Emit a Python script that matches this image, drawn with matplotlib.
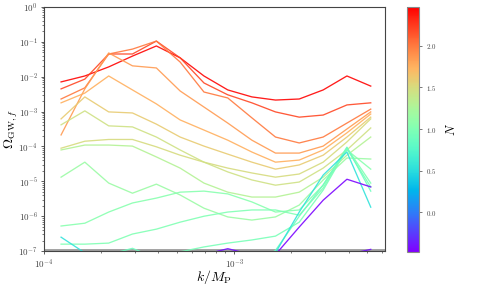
import numpy as np
import matplotlib
matplotlib.use('Agg')
import matplotlib.pyplot as plt

plt.rcParams['mathtext.fontset'] = 'cm'
plt.rcParams['font.family'] = 'serif'
plt.rcParams['font.serif'] = ['cmr10', 'DejaVu Serif']
plt.rcParams['axes.formatter.use_mathtext'] = True

# wavenumbers k/M_P
k = [1.23e-4, 1.64e-4, 2.19e-4, 2.92e-4, 3.90e-4, 5.20e-4, 6.94e-4,
     9.26e-4, 1.24e-3, 1.65e-3, 2.20e-3, 2.94e-3, 3.92e-3, 5.23e-3]

# colour parameter N of each curve
N = [2.45, 2.2, 2.0, 1.85, 1.75, 1.6, 1.5, 1.45, 1.3, 1.15, 1.05, 1.0, 0.95,
     0.9, 0.55, -0.42, -0.45]

# log10(Omega_GW,f) of each curve, same order as N
logOmega = [
    [-2.15, -1.98, -1.72, -1.41, -1.12, -1.46, -1.98, -2.38, -2.58, -2.67, -2.64, -2.38, -1.98, -2.27],
    [-2.35, -2.07, -1.35, -1.35, -0.98, -1.46, -2.18, -2.52, -2.75, -3.01, -3.16, -3.10, -2.81, -2.75],
    [-2.64, -2.32, -1.35, -1.21, -0.98, -1.58, -2.44, -2.61, -3.18, -3.73, -3.90, -3.73, -3.33, -2.93],
    [-3.67, -2.35, -1.32, -1.69, -1.75, -2.41, -2.87, -3.33, -3.82, -4.19, -4.19, -3.99, -3.50, -3.01],
    [-2.75, -2.47, -1.98, -2.38, -2.78, -3.24, -3.53, -3.82, -4.16, -4.45, -4.39, -4.10, -3.61, -3.07],
    [-3.21, -2.58, -3.01, -3.04, -3.36, -3.73, -3.99, -4.22, -4.45, -4.65, -4.53, -4.25, -3.73, -3.16],
    [-4.05, -3.85, -3.80, -3.80, -4.01, -4.25, -4.45, -4.62, -4.76, -4.88, -4.79, -4.45, -3.87, -3.21],
    [-3.38, -2.98, -3.41, -3.44, -3.73, -4.10, -4.45, -4.73, -4.96, -5.11, -5.02, -4.62, -4.10, -3.47],
    [-4.10, -3.96, -3.96, -3.99, -4.30, -4.62, -5.05, -5.31, -5.45, -5.45, -5.31, -4.88, -4.25, -3.73],
    [-4.88, -4.45, -5.05, -5.34, -5.08, -5.39, -5.77, -6.02, -6.11, -6.02, -5.68, -4.96, -4.33, -4.36],
    [-6.28, -6.20, -5.88, -5.62, -5.48, -5.31, -5.28, -5.36, -5.59, -5.88, -5.82, -5.11, -4.10, -4.65],
    [-6.80, -6.80, -6.77, -6.51, -6.37, -6.17, -6.00, -5.88, -5.82, -5.82, -5.97, -5.19, -4.04, -5.05],
    [-7.60, -7.50, -7.40, -7.20, -7.05, -7.02, -6.88, -6.77, -6.68, -6.57, -6.17, -5.25, -4.07, -5.16],
    [-7.50, -7.30, -7.10, -6.92, -7.20, -7.60, -7.80, -7.70, -7.40, -6.98, -6.00, -5.10, -4.02, -5.28],
    [-6.60, -7.05, -7.60, -7.80, -7.80, -7.80, -7.80, -7.80, -7.60, -7.05, -5.88, -4.82, -4.16, -5.74],
    [-8.00, -8.00, -8.00, -8.00, -8.00, -7.60, -7.10, -6.93, -7.10, -7.40, -7.60, -7.40, -7.10, -6.95],
    [-8.00, -8.00, -8.00, -8.00, -8.00, -8.00, -8.00, -8.00, -7.80, -7.10, -6.31, -5.54, -4.94, -5.16],
]

fig = plt.figure(figsize=(4.78, 2.87), dpi=100)
ax = fig.add_axes([0.092, 0.125, 0.713, 0.851])
cax = fig.add_axes([0.851, 0.122, 0.025, 0.854])

cmap = plt.get_cmap('rainbow')
norm = matplotlib.colors.Normalize(vmin=-0.48, vmax=2.47)

for n, lo in zip(N, logOmega):
    ax.plot(k, 10.0 ** np.array(lo), color=cmap(norm(n)), lw=0.95, alpha=0.9)

ax.axhline(1e-7, color='#a0a0a0', lw=2.8, zorder=1.5)

ax.set_xscale('log')
ax.set_yscale('log')
ax.set_xlim(1e-4, 6.2e-3)
ax.set_ylim(1e-7, 1e0)
ax.xaxis.set_minor_formatter(matplotlib.ticker.NullFormatter())
ax.yaxis.set_minor_formatter(matplotlib.ticker.NullFormatter())
ax.set_xlabel(r'$k/M_{\rm P}$', fontsize=10, labelpad=-2)
ax.set_ylabel(r'$\Omega_{\mathrm{GW},f}$', fontsize=10, labelpad=-1)
ax.tick_params(labelsize=6.5, colors='#444444', length=2.5, width=0.6, pad=2)
ax.tick_params(which='minor', length=1.5, width=0.5, colors='#444444')
for s in ax.spines.values():
    s.set_color('#444444')
    s.set_linewidth(0.8)

sm = matplotlib.cm.ScalarMappable(norm=norm, cmap=cmap)
cb = fig.colorbar(sm, cax=cax)
cb.set_ticks([0.0, 0.5, 1.0, 1.5, 2.0])
cb.ax.tick_params(labelsize=5, length=2, width=0.5, colors='#444444')
cb.outline.set_edgecolor('#888888')
cb.set_label(r'$N$', fontsize=9, labelpad=6)

fig.savefig('out.png', dpi=100)
